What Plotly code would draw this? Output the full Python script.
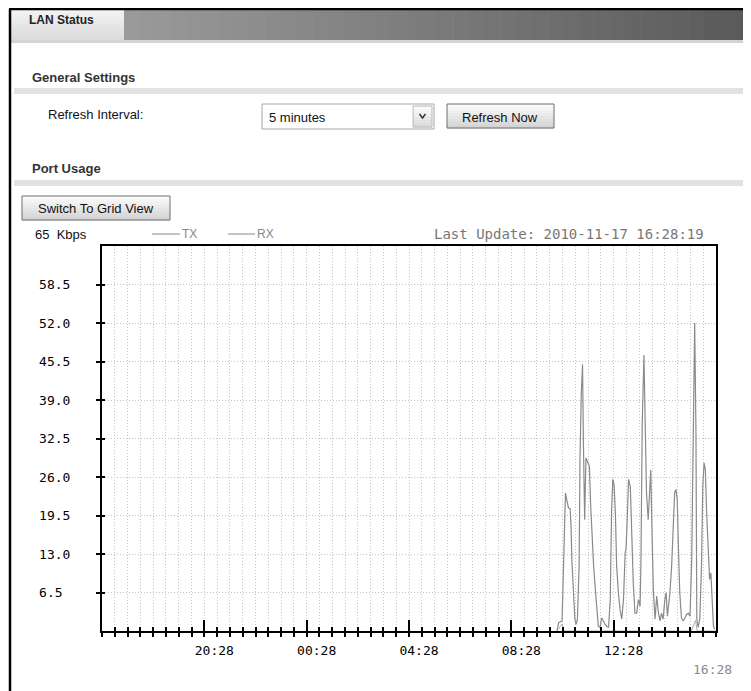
import plotly.graph_objects as go

# the page body has an 8px margin: figure is offset by OFF inside the 751x691 window
OFF = 8
W, H = 751 - OFF, 691 - OFF

# ---------------- data ----------------
day = "2010-11-17"
tx_times = ["10:15", "10:19", "10:27", "10:31", "10:35", "10:38", "10:42", "10:46", "10:48", "10:50",
            "10:54", "10:57", "11:00", "11:03", "11:07", "11:09", "11:12", "11:15", "11:17", "11:20",
            "11:23", "11:27", "11:31", "11:34", "11:37", "11:41", "11:45", "11:49", "11:52", "11:56",
            "12:00", "12:04", "12:08", "12:12", "12:16", "12:20", "12:23", "12:26", "12:29", "12:32",
            "12:35", "12:39", "12:43", "12:47", "12:51", "12:55", "12:57", "13:00", "13:03", "13:07",
            "13:10", "13:14", "13:18", "13:22", "13:26", "13:30", "13:32", "13:35", "13:39", "13:42",
            "13:45", "13:49", "13:52", "13:55", "13:58", "14:01", "14:05", "14:09", "14:13", "14:17",
            "14:20", "14:24", "14:28", "14:31", "14:34", "14:37", "14:40", "14:44", "14:48", "14:51",
            "14:54", "14:57", "15:00", "15:03", "15:07", "15:11", "15:15", "15:19", "15:23", "15:27",
            "15:31", "15:34", "15:38", "15:41", "15:43", "15:46", "15:50", "15:54", "15:57", "16:00",
            "16:03", "16:06", "16:10", "16:13", "16:16", "16:19", "16:22", "16:25"]
tx_kbps = [0.0, 1.4, 1.7, 12.6, 23.3, 22.2, 20.8, 20.6, 17.7, 12.0,
           6.5, 2.0, 1.1, 2.0, 11.0, 29.0, 40.0, 45.0, 32.0, 18.8,
           29.2, 28.4, 27.8, 21.3, 16.6, 11.0, 7.0, 3.0, 0.8, 0.6,
           2.2, 1.7, 1.1, 0.8, 0.6, 5.3, 20.0, 25.6, 24.7, 20.0,
           11.0, 6.5, 3.6, 2.0, 5.3, 13.2, 13.8, 19.4, 25.6, 24.4,
           16.6, 8.1, 3.0, 3.0, 5.3, 4.2, 12.0, 35.0, 46.6, 34.5,
           23.3, 18.8, 22.2, 27.2, 16.6, 7.0, 2.0, 5.9, 3.0, 1.7,
           3.0, 2.0, 5.3, 6.5, 2.5, 4.2, 6.5, 11.0, 19.4, 23.3,
           23.9, 22.2, 13.8, 6.5, 2.2, 1.7, 2.2, 2.8, 3.0, 2.5,
           12.0, 32.3, 52.0, 33.4, 2.0, 0.6, 2.0, 11.0, 24.4, 28.4,
           27.2, 20.0, 12.6, 8.7, 9.8, 5.3, 0.8, 0.3]
rx_times = ["10:15", "10:27", "10:31", "15:30", "15:40", "15:44", "16:28"]
rx_kbps = [0.0, 1.2, 0.0, 0.0, 1.8, 0.0, 0.0]

y_ticks = [6.5, 13.0, 19.5, 26.0, 32.5, 39.0, 45.5, 52.0, 58.5]
y_max = 65
x_start, x_end = "2010-11-16 16:28", "2010-11-17 16:28"
x_tick_times = ["2010-11-16 20:28", "2010-11-17 00:28", "2010-11-17 04:28",
                "2010-11-17 08:28", "2010-11-17 12:28"]
x_tick_labels = ["20:28", "00:28", "04:28", "08:28", "12:28"]
last_update = "2010-11-17 16:28:19"
end_label = "16:28"

# ---------------- helpers (window pixel -> paper) ----------------
def px(x):
    return (x - OFF) / W

def py(y):
    return 1 - (y - OFF) / H

shapes, annots = [], []

def rect(x0, y0, x1, y1, fill, line=None, lw=0):
    shapes.append(dict(type="rect", xref="paper", yref="paper",
                       x0=px(x0), x1=px(x1), y0=py(y1), y1=py(y0),
                       fillcolor=fill, line=dict(width=lw, color=line or fill)))

def seg(x0, y0, x1, y1, color, lw=1):
    shapes.append(dict(type="line", xref="paper", yref="paper",
                       x0=px(x0), x1=px(x1), y0=py(y0), y1=py(y1),
                       line=dict(color=color, width=lw)))

def mix(c0, c1, t):
    a = [int(c0[i:i + 2], 16) for i in (1, 3, 5)]
    b = [int(c1[i:i + 2], 16) for i in (1, 3, 5)]
    return "#%02x%02x%02x" % tuple(round(a[k] + (b[k] - a[k]) * t) for k in range(3))

def hgrad(x0, y0, x1, y1, c0, c1, n=40):
    w = (x1 - x0) / n
    for i in range(n):
        rect(x0 + i * w, y0, x0 + (i + 1) * w + 0.6, y1, mix(c0, c1, i / (n - 1)))

def vgrad(x0, y0, x1, y1, c0, c1, n=8):
    h = (y1 - y0) / n
    for i in range(n):
        rect(x0, y0 + i * h, x1, y0 + (i + 1) * h + 0.6, mix(c0, c1, i / (n - 1)))

UI = "Liberation Sans, Arial, sans-serif"
MONO = "DejaVu Sans Mono, monospace"

def text(x, y, s, size=12, color="black", family=UI, bold=False, anchor="left"):
    annots.append(dict(xref="paper", yref="paper", x=px(x), y=py(y),
                       text=("<b>%s</b>" % s) if bold else s,
                       showarrow=False, xanchor=anchor, yanchor="middle",
                       font=dict(size=size, color=color, family=family)))

def button(x0, y0, x1, y1, label):
    vgrad(x0, y0, x1, y1, "#fbfbfb", "#d4d4d4")
    rect(x0, y0, x1, y1, "rgba(0,0,0,0)", "#6e6e6e", 1)
    text((x0 + x1) / 2, (y0 + y1) / 2 + 1, label, 13, "#111", anchor="center")

# ---------------- page chrome ----------------
vgrad(10, 9, 124, 40, "#f2f2f2", "#dcdcdc")
hgrad(124, 9, 751, 40, "#9a9a9a", "#5a5a5a")
rect(10, 40, 751, 43, "#d4d4d4")
text(27, 20, "LAN Status", 12, "#222", bold=True)
seg(9, 9, 751, 9, "black", 2.5)
seg(10, 9, 10, 691, "black", 2.5)

text(30, 77, "General Settings", 13, "#333", bold=True)
rect(14, 88, 751, 94, "#e2e2e2")
text(46, 115, "Refresh Interval:", 13, "#111")
rect(262, 104, 434, 129, "white", "#a8a8a8", 1)
text(267, 118, "5 minutes", 13, "#111")
vgrad(413, 106, 432, 127, "#fafafa", "#dcdcdc", 6)
rect(413, 106, 432, 127, "rgba(0,0,0,0)", "#b8b8b8", 1)
shapes.append(dict(type="path", xref="paper", yref="paper",
                   path="M %f,%f L %f,%f L %f,%f" % (px(419.5), py(114), px(422.5), py(118),
                                                     px(425.5), py(114)),
                   line=dict(color="#333", width=1.5)))
button(447, 104, 554, 128, "Refresh Now")

text(30, 168, "Port Usage", 13, "#333", bold=True)
rect(14, 180, 751, 186, "#e2e2e2")
button(22, 196, 170, 220, "Switch To Grid View")

# chart header
text(33, 234, "65&nbsp;&nbsp;Kbps", 13, "#111")
seg(152, 234, 180, 234, "#888", 1)
text(180, 234, "TX", 12, "#888")
seg(228, 234, 255, 234, "#888", 1)
text(255, 234, "RX", 12, "#888")
text(706, 234, "Last Update: " + last_update, 14, "#777", family=MONO, anchor="right")
text(734, 669, end_label, 13, "#8a8a8a", family=MONO, anchor="right")

# ---------------- chart ----------------
tx_x = [day + " " + t for t in tx_times]
rx_x = [day + " " + t for t in rx_times]

fig = go.Figure()
fig.add_trace(go.Scatter(x=tx_x, y=tx_kbps, mode="lines", name="TX",
                         line=dict(color="#8a8a8a", width=1.2), xaxis="x", yaxis="y"))
fig.add_trace(go.Scatter(x=rx_x, y=rx_kbps, mode="lines", name="RX",
                         line=dict(color="#b0b0b0", width=1), xaxis="x2", yaxis="y2"))

mono = dict(family=MONO, size=13, color="black")
grid = dict(gridcolor="#c4c4c4", griddash="1px,2px", gridwidth=1)
dom_x = [px(102), px(716)]
dom_y = [py(631), py(246)]

fig.update_layout(
    width=W, height=H, autosize=False,
    margin=dict(l=0, r=0, t=0, b=0, pad=0),
    paper_bgcolor="white", plot_bgcolor="white",
    showlegend=False,
    xaxis=dict(domain=dom_x, anchor="y", type="date", range=[x_start, x_end],
               showline=True, linecolor="black", linewidth=2, mirror=True,
               tickmode="array", tickvals=x_tick_times, ticktext=x_tick_labels,
               ticks="outside", ticklen=4, tickwidth=1.5, tickcolor="black",
               showgrid=True, **grid, zeroline=False,
               minor=dict(tick0=x_start, dtick=1800000, ticks="outside", ticklen=4,
                          tickwidth=1.5, tickcolor="black", showgrid=True, **grid),
               tickfont=mono, ticklabelshift=10, ticklabelstandoff=2),
    xaxis2=dict(overlaying="x", matches="x", anchor="y2", type="date", range=[x_start, x_end],
                showline=False, showgrid=False, zeroline=False, showticklabels=False,
                tickmode="array", tickvals=x_tick_times,
                ticks="inside", ticklen=11, tickwidth=1.5, tickcolor="black",
                minor=dict(tick0=x_start, dtick=1800000, ticks="inside", ticklen=4,
                           tickwidth=1.5, tickcolor="black", showgrid=False)),
    yaxis=dict(domain=dom_y, anchor="x", range=[0, y_max],
               showline=True, linecolor="black", linewidth=2, mirror=True,
               tickmode="array", tickvals=y_ticks,
               ticktext=[("%.1f" % v).ljust(4, "\u00a0") for v in y_ticks],
               ticks="outside", ticklen=4, tickwidth=1.5, tickcolor="black",
               showgrid=True, **grid, zeroline=False,
               tickfont=mono, ticklabelstandoff=23),
    yaxis2=dict(overlaying="y", matches="y", anchor="x2", range=[0, y_max],
                showline=False, showgrid=False, zeroline=False, showticklabels=False,
                tickmode="array", tickvals=y_ticks,
                ticks="inside", ticklen=3, tickwidth=1.5, tickcolor="black"),
    shapes=shapes, annotations=annots,
)

fig.write_html("out.html")
